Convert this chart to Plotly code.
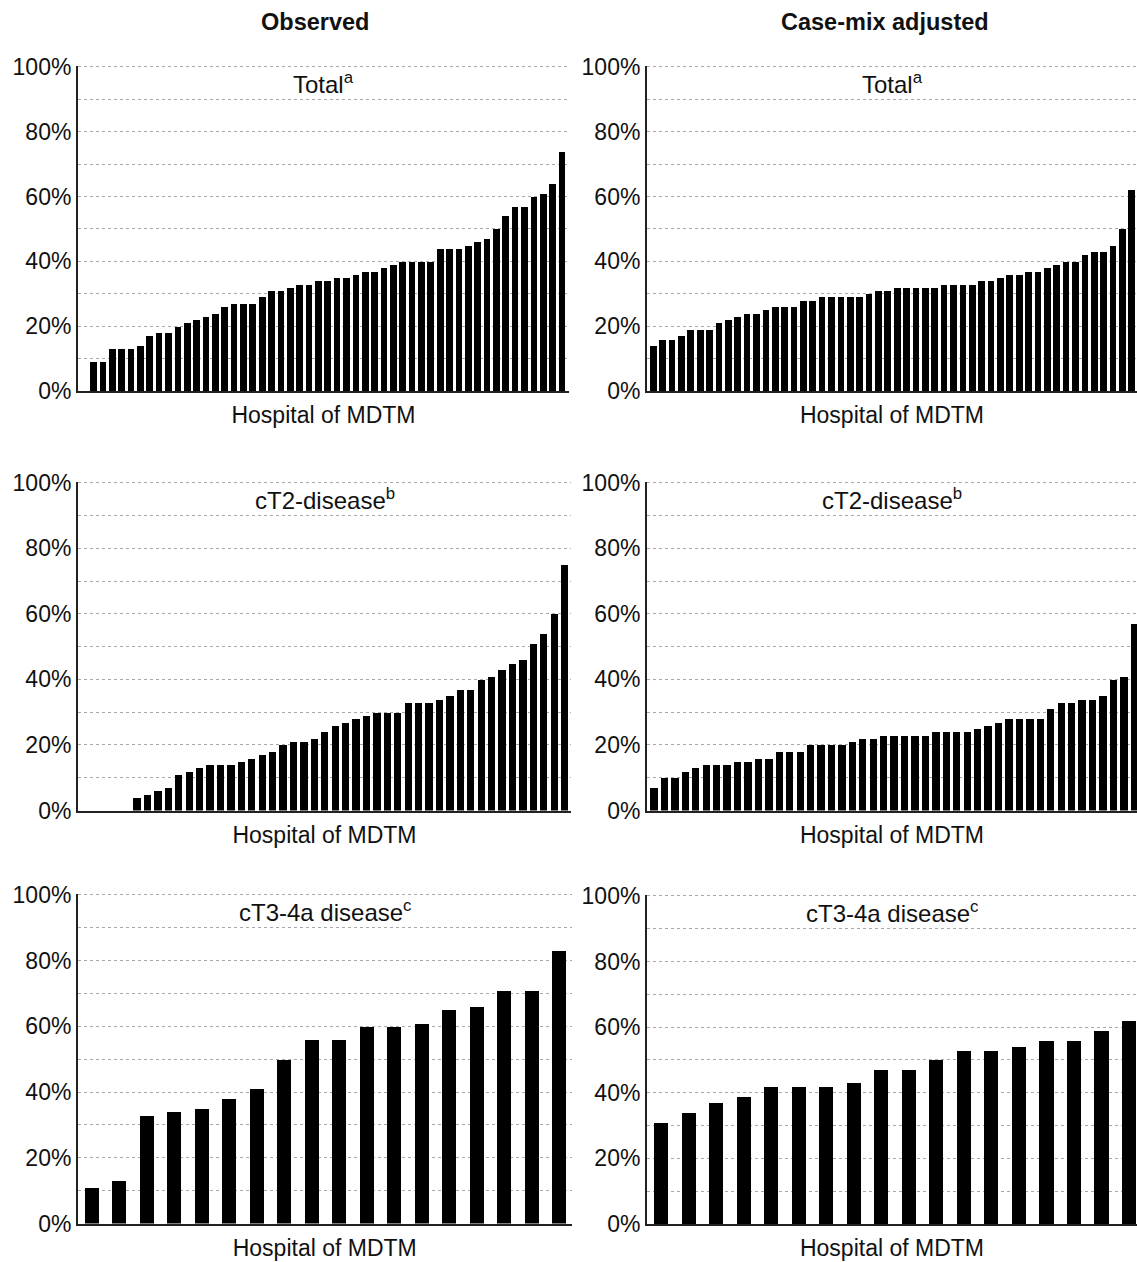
import plotly.graph_objects as go

# ---------------- data (percentages, hospitals sorted ascending) ----------------
observed_total = [0, 9, 9, 13, 13, 13, 14, 17, 18, 18, 20, 21, 22, 23, 24, 26, 27, 27, 27, 29,
                  31, 31, 32, 33, 33, 34, 34, 35, 35, 36, 37, 37, 38, 39, 40, 40, 40, 40,
                  44, 44, 44, 45, 46, 47, 50, 54, 57, 57, 60, 61, 64, 74]
adjusted_total = [14, 16, 16, 17, 19, 19, 19, 21, 22, 23, 24, 24, 25, 26, 26, 26, 28, 28, 29, 29,
                  29, 29, 29, 30, 31, 31, 32, 32, 32, 32, 32, 33, 33, 33, 33, 34, 34, 35, 36, 36,
                  37, 37, 38, 39, 40, 40, 42, 43, 43, 45, 50, 62]
observed_ct2 = [0, 0, 0, 0, 0, 4, 5, 6, 7, 11, 12, 13, 14, 14, 14, 15, 16, 17, 18, 20, 21, 21, 22,
                24, 26, 27, 28, 29, 30, 30, 30, 33, 33, 33, 34, 35, 37, 37, 40, 41, 43, 45, 46,
                51, 54, 60, 75]
adjusted_ct2 = [7, 10, 10, 12, 13, 14, 14, 14, 15, 15, 16, 16, 18, 18, 18, 20, 20, 20, 20, 21, 22,
                22, 23, 23, 23, 23, 23, 24, 24, 24, 24, 25, 26, 27, 28, 28, 28, 28, 31, 33, 33,
                34, 34, 35, 40, 41, 57]
observed_ct34 = [11, 13, 33, 34, 35, 38, 41, 50, 56, 56, 60, 60, 61, 65, 66, 71, 71, 83]
adjusted_ct34 = [31, 34, 37, 39, 42, 42, 42, 43, 47, 47, 50, 53, 53, 54, 56, 56, 59, 62]

column_titles = ["Observed", "Case-mix adjusted"]
panel_titles = ["Total<sup>a</sup>", "cT2-disease<sup>b</sup>", "cT3-4a disease<sup>c</sup>"]
x_title = "Hospital of MDTM"
y_ticks = [0, 20, 40, 60, 80, 100]
y_ticktext = [f"{v}%" for v in y_ticks]

W, H = 1137, 1262
FONT = "Liberation Sans, Arial, sans-serif"

panels = [
    # (values, x-pixel domain, y-pixel domain, x range, bar width, panel title)
    (observed_total, (78, 569), (65.5, 391), (-0.66, 51.75), 0.71, panel_titles[0]),
    (adjusted_total, (647, 1137), (65.5, 391), (-0.67, 51.56), 0.71, panel_titles[0]),
    (observed_ct2, (78, 571), (481.5, 810.5), (-0.66, 46.61), 0.70, panel_titles[1]),
    (adjusted_ct2, (647, 1137), (481.5, 810.5), (-0.67, 46.26), 0.70, panel_titles[1]),
    (observed_ct34, (78, 571.5), (893.5, 1223.5), (-0.5, 17.45), 0.51, panel_titles[2]),
    (adjusted_ct34, (647, 1137), (894.5, 1224), (-0.52, 17.29), 0.51, panel_titles[2]),
]

fig = go.Figure()
layout = dict(
    width=W, height=H, margin=dict(l=0, r=0, t=0, b=0, autoexpand=False),
    paper_bgcolor="white", plot_bgcolor="white", showlegend=False,
    font=dict(family=FONT, color="#111111"), bargap=0,
)
annotations = []

for i, (vals, xd, yd, xr, bw, ptitle) in enumerate(panels):
    n = i + 1
    xa = "x" if n == 1 else f"x{n}"
    ya = "y" if n == 1 else f"y{n}"
    fig.add_trace(go.Bar(
        x=list(range(len(vals))), y=vals, width=bw,
        marker=dict(color="black", line=dict(width=0)),
        xaxis=xa, yaxis=ya, hoverinfo="skip",
    ))
    xkey = "xaxis" if n == 1 else f"xaxis{n}"
    ykey = "yaxis" if n == 1 else f"yaxis{n}"
    layout[xkey] = dict(
        domain=[xd[0] / W, xd[1] / W], range=list(xr), anchor=ya, automargin=False,
        showgrid=False, zeroline=False, showticklabels=False, ticks="",
        showline=True, linecolor="#222222", linewidth=2,
        title=dict(text=x_title, font=dict(size=23, family=FONT, color="#111111"), standoff=15),
    )
    layout[ykey] = dict(
        domain=[1 - yd[1] / H, 1 - yd[0] / H], range=[0, 100.4], anchor=xa, automargin=False,
        tickmode="array", tickvals=y_ticks, ticktext=y_ticktext, ticks="",
        tickfont=dict(size=23, family=FONT, color="#111111"),
        showgrid=True, gridcolor="#a8a8a8", griddash="dot", gridwidth=1,
        minor=dict(dtick=10, tick0=0, showgrid=True, gridcolor="#a8a8a8", griddash="dot", gridwidth=1),
        zeroline=False, showline=True, linecolor="#222222", linewidth=2,
        ticklabelstandoff=0,
    )
    annotations.append(dict(
        x=(xd[0] + xd[1]) / 2 / W, y=1 - (yd[0] + 17) / H, xref="paper", yref="paper",
        text=ptitle, showarrow=False, xanchor="center", yanchor="middle",
        font=dict(size=24, family=FONT, color="#111111"),
    ))

annotations.append(dict(x=315 / W, y=1 - 22 / H, xref="paper", yref="paper", text="<b>" + column_titles[0] + "</b>",
                        showarrow=False, xanchor="center", yanchor="middle",
                        font=dict(size=23.5, family=FONT, color="#111111")))
annotations.append(dict(x=885 / W, y=1 - 22 / H, xref="paper", yref="paper", text="<b>" + column_titles[1] + "</b>",
                        showarrow=False, xanchor="center", yanchor="middle",
                        font=dict(size=23.5, family=FONT, color="#111111")))
layout["annotations"] = annotations
fig.update_layout(**layout)
fig.write_html("out.html", config={"displayModeBar": False},
               post_script="document.body.style.margin='0px';document.body.style.padding='0px';")
